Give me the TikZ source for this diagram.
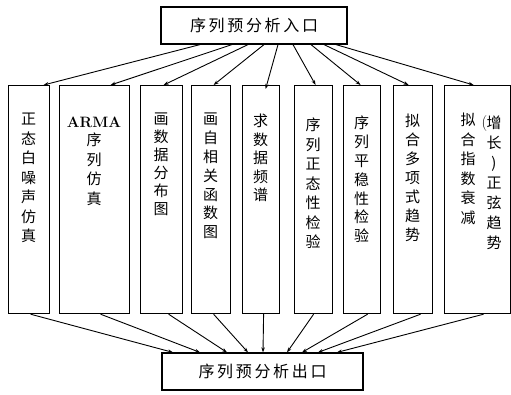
\documentclass[tikz,border=0pt]{standalone}
\usepackage{fontspec}
\newfontfamily\cjk{Noto Sans CJK SC}
\usetikzlibrary{arrows.meta}
\begin{document}
\begin{tikzpicture}[x=1pt,y=-1pt,
  box/.style={draw,line width=1.2pt,minimum height=228pt,anchor=north west,inner sep=0pt},
  endbox/.style={draw,line width=1.2pt,inner sep=0pt,font=\cjk\fontsize{16}{18}\selectfont},
  vt/.style={font=\cjk\fontsize{15}{19.5}\selectfont,align=center,anchor=north,inner sep=0pt},
  conn/.style={line width=0.9pt,-{Stealth[length=5pt,width=3.5pt]}},
]
\useasboundingbox (0,0) rectangle (511,395);

% entry / exit
\node[endbox,minimum width=186pt,minimum height=37pt] (top) at (254,25.5) {序\,列\,预\,分\,析\,入\,口};
\node[endbox,minimum width=201pt,minimum height=37pt] (bot) at (262.5,371.5) {序\,列\,预\,分\,析\,出\,口};

% boxes
\node[box,minimum width=41pt] (b1) at (8,85) {};
\node[box,minimum width=70pt] (b2) at (59,85) {};
\node[box,minimum width=42pt] (b3) at (140,85) {};
\node[box,minimum width=39pt] (b4) at (191,85) {};
\node[box,minimum width=37pt] (b5) at (242,85) {};
\node[box,minimum width=38pt] (b6) at (294,85) {};
\node[box,minimum width=37pt] (b7) at (343,85) {};
\node[box,minimum width=39pt] (b8) at (393,85) {};
\node[box,minimum width=66pt] (b9) at (444,85) {};

% texts
\node[vt] (t1) at (28.5,113) {正\\态\\白\\噪\\声\\仿\\真};
\node[font=\bfseries\fontsize{15}{18}\selectfont,inner sep=0pt] (t2a) at (94,122) {ARMA};
\node[vt] (t2) at (94,133) {序\\列\\仿\\真};
\node[vt,font=\cjk\fontsize{15}{18}\selectfont] (t3) at (161,113) {画\\数\\据\\分\\布\\图};
\node[vt,font=\cjk\fontsize{15}{18.8}\selectfont] (t4) at (210.5,113) {画\\自\\相\\关\\函\\数\\图};
\node[vt,font=\cjk\fontsize{15}{18.5}\selectfont] (t5) at (260.5,114) {求\\数\\据\\频\\谱};
\node[vt] (t6) at (313,118) {序\\列\\正\\态\\性\\检\\验};
\node[vt,font=\cjk\fontsize{15}{18.8}\selectfont] (t7) at (361.5,116) {序\\列\\平\\稳\\性\\检\\验};
\node[vt,font=\cjk\fontsize{15}{19}\selectfont] (t8) at (412.5,114) {拟\\合\\多\\项\\式\\趋\\势};
\node[vt,font=\cjk\fontsize{15}{19.5}\selectfont] (t9a) at (468,113) {拟\\合\\指\\数\\衰\\减};
\node[vt,font=\cjk\fontsize{15}{20}\selectfont] (t9b) at (494,116) {增\\长\\)\\正\\弦\\趋\\势};
\node[font=\fontsize{16}{18}\selectfont,inner sep=0pt] (t9p) at (484.5,124) {(};

% connectors from entry
\draw[conn] ([xshift=-54pt]top.south) -- ([xshift=14.5pt]b1.north);
\draw[conn] ([xshift=-22pt]top.south) -- ([xshift=16pt]b2.north);
\draw[conn] ([xshift=-6pt]top.south) -- ([xshift=2pt]b3.north);
\draw[conn] ([xshift=10pt]top.south) -- ([xshift=2.5pt]b4.north);
\draw[conn] ([xshift=24pt]top.south) -- ([xshift=4.5pt,yshift=-4pt]b5.north);
\draw[conn] ([xshift=39pt]top.south) -- ([xshift=2pt]b6.north);
\draw[conn] ([xshift=57pt]top.south) -- ([xshift=-1.5pt]b7.north);
\draw[conn] ([xshift=70pt]top.south) -- ([xshift=-4.5pt]b8.north);
\draw[conn] ([xshift=82pt]top.south) -- ([xshift=-4pt]b9.north);

% connectors to exit
\draw[conn] ([xshift=1.5pt]b1.south) -- ([xshift=-89.5pt]bot.north);
\draw[conn] ([xshift=6pt]b2.south) -- ([xshift=-62.5pt]bot.north);
\draw[conn] ([xshift=7pt]b3.south) -- ([xshift=-35.5pt]bot.north);
\draw[conn] ([xshift=2.5pt]b4.south) -- ([xshift=-14.5pt]bot.north);
\draw[conn] ([xshift=2.5pt]b5.south) -- ([xshift=0.5pt]bot.north);
\draw[conn] ([xshift=0pt]b6.south) -- ([xshift=24.5pt]bot.north);
\draw[conn] ([xshift=5.5pt]b7.south) -- ([xshift=39.5pt]bot.north);
\draw[conn] ([xshift=7.5pt]b8.south) -- ([xshift=55.5pt]bot.north);
\draw[conn] ([xshift=6pt]b9.south) -- ([xshift=74.5pt]bot.north);
\end{tikzpicture}
\end{document}
